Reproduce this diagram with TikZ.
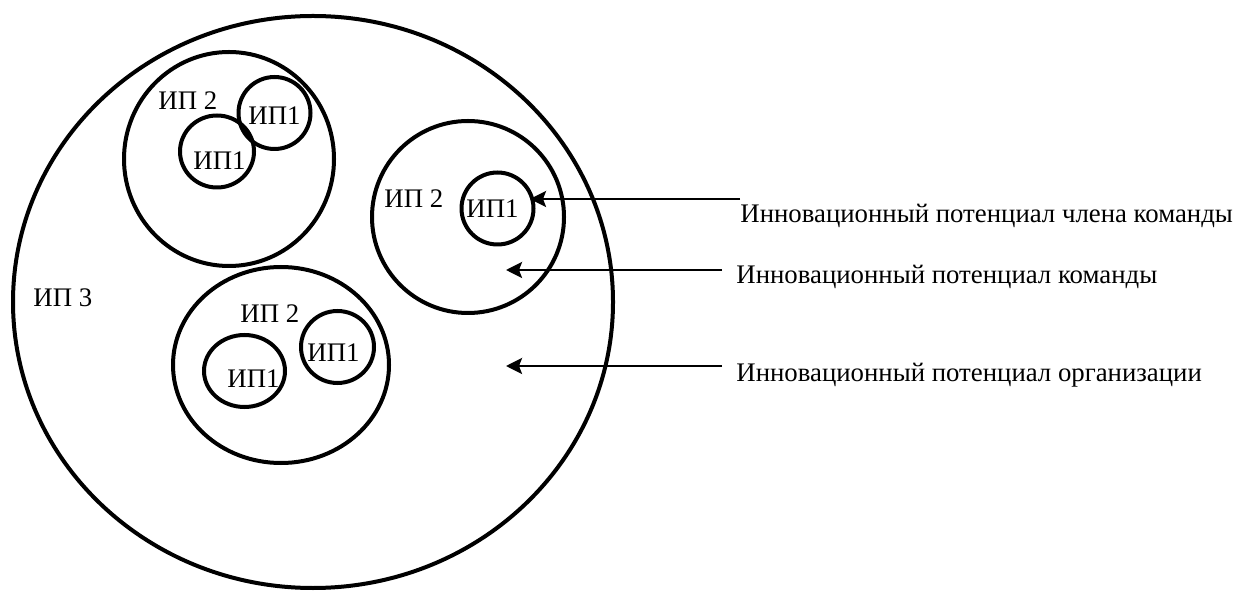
\documentclass[tikz,border=0pt]{standalone}
\usepackage{fontspec}
\setmainfont{Liberation Serif}
\usetikzlibrary{shapes.geometric,arrows.meta}
\tikzset{
  ring/.style={draw, ellipse, line width=2pt, inner sep=0pt},
  lbl/.style={anchor=base west, inner sep=0pt, font=\fontsize{13.4pt}{15pt}\selectfont},
  pointer/.style={line width=1.3pt, -{Stealth[length=8pt,width=8pt,inset=1.5pt]}}
}
\begin{document}
\begin{tikzpicture}[x=0.5pt, y=-0.5pt]
  \useasboundingbox (0,0) rectangle (1235,592);

  % organisation level
  \node[ring, minimum width=300pt, minimum height=286pt] (org) at (313,302) {};
  \node[lbl] (ip3) at (33,307) {ИП 3};

  % team, upper left
  \node[ring, minimum width=105pt, minimum height=107pt] (teamA) at (229,159) {};
  \node[ring, minimum width=36pt, minimum height=36pt] (memA1) at (274.5,113) {};
  \node[ring, minimum width=37pt, minimum height=36pt] (memA2) at (217,151.5) {};
  \node[lbl] (tA) at (158,110) {ИП 2};
  \node[lbl] (mA1) at (248,125) {ИП1};
  \node[lbl] (mA2) at (193,170) {ИП1};

  % team, right
  \node[ring, minimum width=96pt, minimum height=96pt] (teamB) at (468,217) {};
  \node[ring, minimum width=36pt, minimum height=36pt] (memB1) at (497.5,208.5) {};
  \node[lbl] (tB) at (384,208) {ИП 2};
  \node[lbl] (mB1) at (466,218) {ИП1};

  % team, lower
  \node[ring, minimum width=108pt, minimum height=98pt] (teamC) at (281,365) {};
  \node[ring, minimum width=40.5pt, minimum height=36pt] (memC1) at (244.5,371) {};
  \node[ring, minimum width=36.5pt, minimum height=36pt] (memC2) at (337.5,347) {};
  \node[lbl] (tC) at (240,323) {ИП 2};
  \node[lbl] (mC1) at (227,388) {ИП1};
  \node[lbl] (mC2) at (307,362) {ИП1};

  % legend
  \node[lbl] (d1) at (740,223) {Инновационный потенциал члена команды};
  \node[lbl] (d2) at (736,284) {Инновационный потенциал команды};
  \node[lbl] (d3) at (736,382) {Инновационный потенциал организации};

  \coordinate (s1) at (740,199);
  \coordinate (e1) at (530,199);
  \coordinate (s2) at (722,270);
  \coordinate (e2) at (506,270);
  \coordinate (s3) at (722,366);
  \coordinate (e3) at (506,366);
  \draw[pointer] (s1) -- (e1);
  \draw[pointer] (s2) -- (e2);
  \draw[pointer] (s3) -- (e3);
\end{tikzpicture}
\end{document}
